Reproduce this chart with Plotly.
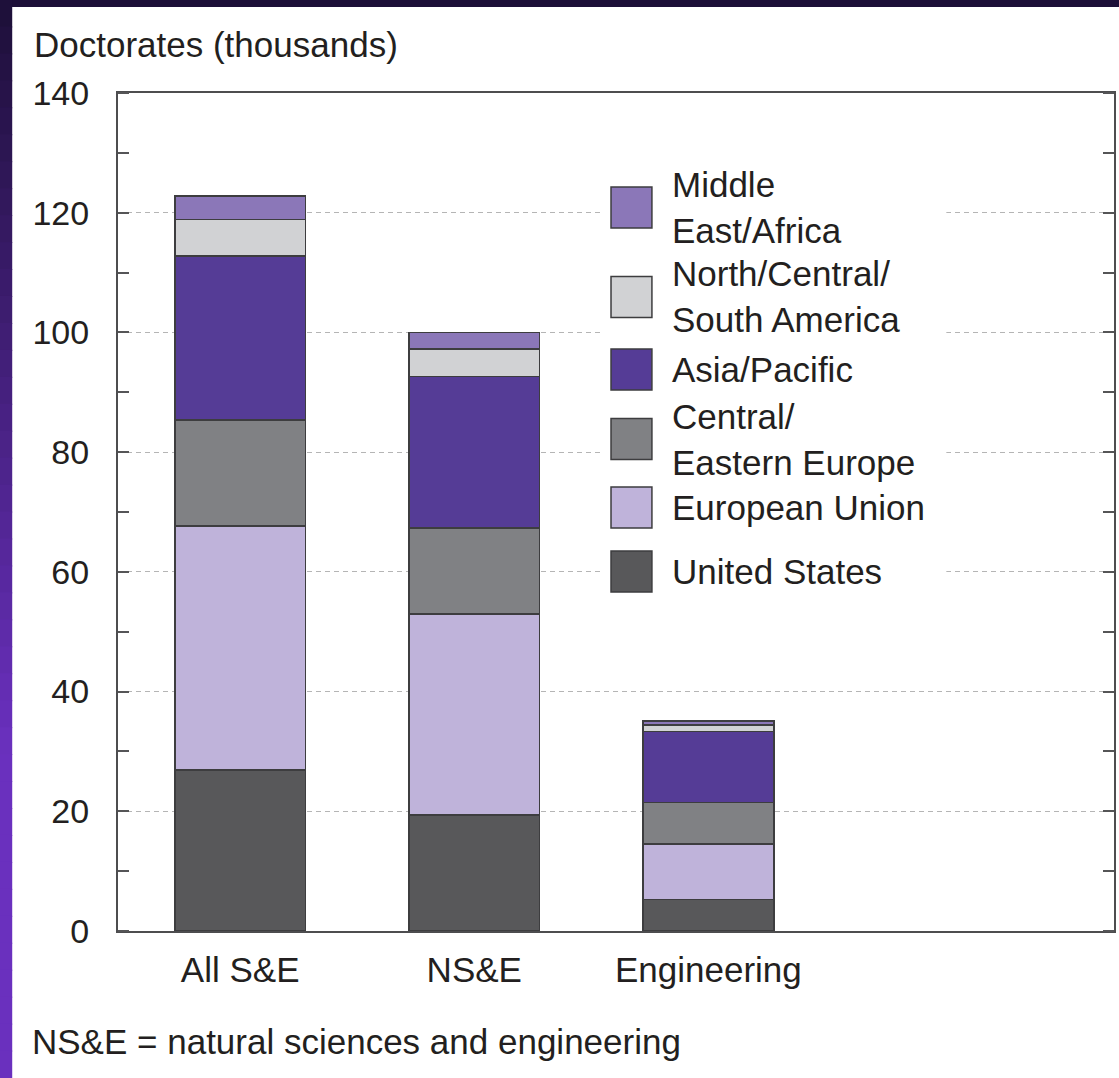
import plotly.graph_objects as go

# ---- data ----
categories = ["All S&E", "NS&E", "Engineering"]
series_names = [
    "United States",
    "European Union",
    "Central/<br>Eastern Europe",
    "Asia/Pacific",
    "North/Central/<br>South America",
    "Middle<br>East/Africa",
]
united_states = [26.9, 19.4, 5.3]
european_union = [40.8, 33.6, 9.2]
central_eastern_europe = [17.7, 14.3, 7.0]
asia_pacific = [27.4, 25.3, 11.8]
americas = [6.1, 4.6, 1.1]
middle_east_africa = [3.9, 2.8, 0.7]
series_values = [united_states, european_union, central_eastern_europe,
                 asia_pacific, americas, middle_east_africa]
y_tickvals = [0, 20, 40, 60, 80, 100, 120, 140]
y_title = "Doctorates (thousands)"
footnote = "NS&E = natural sciences and engineering"

# ---- styling ----
colors = ["#58585a", "#bfb3da", "#808184", "#553c96", "#d1d2d4", "#8b77b8"]
FONT = "Liberation Sans, Arial, sans-serif"
TXT = "#231f20"

W, H = 1119, 1078
L, R, T, B = 118, 1116, 93, 931


def px(xp):
    return (xp - L) / (R - L)


def py(yp):
    return (B - yp) / (B - T)


fig = go.Figure()
for name, vals, col in zip(series_names, series_values, colors):
    fig.add_trace(go.Bar(
        x=categories, y=vals, name=name.replace("<br>", " "),
        marker=dict(color=col, line=dict(color="#3d3d3f", width=1.5)),
        width=0.559, showlegend=False,
    ))

shapes = []
# frame decoration: top band and left gradient strip
shapes.append(dict(type="rect", xref="paper", yref="paper",
                   x0=px(-5), x1=px(W + 5), y0=py(7), y1=py(-5),
                   fillcolor="#1d0f38", line=dict(width=0), layer="above"))
n = 40
for i in range(n):
    y0p = i * H / n
    y1p = (i + 1) * H / n
    t = min(1.0, ((y0p + y1p) / 2) / 750)
    c0 = (29, 15, 56)
    c1 = (106, 48, 190)
    col = "rgb(%d,%d,%d)" % tuple(round(a + (b - a) * t) for a, b in zip(c0, c1))
    shapes.append(dict(type="rect", xref="paper", yref="paper",
                       x0=px(-5), x1=px(12), y0=py(y1p + 0.5), y1=py(y0p - 0.5),
                       fillcolor=col, line=dict(width=0), layer="above"))

# legend background
shapes.append(dict(type="rect", xref="paper", yref="paper",
                   x0=px(603), x1=px(948), y0=py(605), y1=py(165),
                   fillcolor="white", line=dict(width=0), layer="above"))

# legend boxes (top to bottom order: reverse of stacking)
box_centers = [571.5, 507.5, 439, 369.5, 297, 207.5]
annotations = []
for name, col, yc in zip(series_names, colors, box_centers):
    shapes.append(dict(type="rect", xref="paper", yref="paper",
                       x0=px(612), x1=px(653), y0=py(yc + 20.5), y1=py(yc - 20.5),
                       fillcolor=col, line=dict(color="#3d3d3f", width=1.5),
                       layer="above"))
    annotations.append(dict(xref="paper", yref="paper", x=px(671), y=py(yc),
                            xanchor="left", yanchor="middle", align="left",
                            text=name, showarrow=False,
                            font=dict(family=FONT, size=35, color=TXT)))

annotations.append(dict(xref="paper", yref="paper", x=px(32), y=py(45),
                        xanchor="left", yanchor="middle", text=y_title,
                        showarrow=False, font=dict(family=FONT, size=35, color=TXT)))
annotations.append(dict(xref="paper", yref="paper", x=px(30), y=py(1041),
                        xanchor="left", yanchor="middle", text=footnote,
                        showarrow=False, font=dict(family=FONT, size=35, color=TXT)))

fig.update_layout(
    barmode="stack",
    width=W, height=H,
    margin=dict(l=L, r=W - R, t=T, b=H - B, pad=0),
    paper_bgcolor="white", plot_bgcolor="white",
    font=dict(family=FONT, color=TXT),
    shapes=shapes, annotations=annotations,
    showlegend=False,
)
fig.update_xaxes(
    type="category", range=[-0.522, 3.733],
    showline=True, linecolor="#4d4d4f", linewidth=2, mirror=True,
    ticks="", showgrid=False,
    tickfont=dict(family=FONT, size=35, color=TXT),
    ticklabelstandoff=7,
)
fig.update_yaxes(
    range=[0, 140], tickvals=y_tickvals,
    showline=True, linecolor="#4d4d4f", linewidth=2, mirror="ticks",
    ticks="", showgrid=True, gridcolor="#b5b5b5", gridwidth=1.2, griddash="5px,4px",
    zeroline=False,
    minor=dict(dtick=10, ticks="inside", ticklen=11, tickcolor="#555557",
               tickwidth=1.5, showgrid=False),
    tickfont=dict(family=FONT, size=34, color=TXT),
    ticklabelstandoff=20,
)

fig.write_html(
    "out.html",
    config={"displayModeBar": False},
    post_script="document.body.style.margin='0px';document.body.style.overflow='hidden';",
)
